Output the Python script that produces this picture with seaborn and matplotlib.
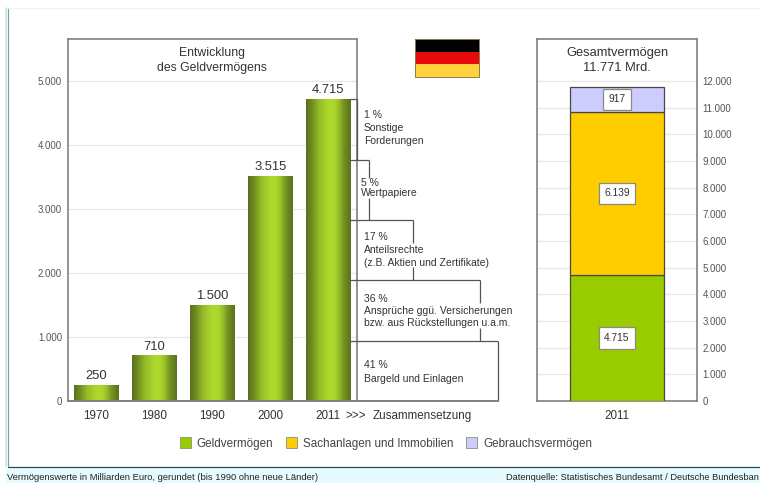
import matplotlib
matplotlib.use("Agg")
import matplotlib.pyplot as plt
from matplotlib.patches import Rectangle
from matplotlib.lines import Line2D
import numpy as np
import pandas as pd
import seaborn as sns

years = ["1970", "1980", "1990", "2000", "2011"]
financial_assets = [250, 710, 1500, 3515, 4715]
financial_labels = ["250", "710", "1.500", "3.515", "4.715"]

shares = ["41 %", "36 %", "17 %", "5 %", "1 %"]
share_texts = [
    "Bargeld und Einlagen",
    "Ansprüche ggü. Versicherungen\nbzw. aus Rückstellungen u.a.m.",
    "Anteilsrechte\n(z.B. Aktien und Zertifikate)",
    "Wertpapiere",
    "Sonstige\nForderungen",
]
share_bounds = [0, 943, 1886, 2829, 3772, 4715]

total_parts = ["Geldvermögen", "Sachanlagen und Immobilien", "Gebrauchsvermögen"]
total_values = [4715, 6139, 917]
total_labels = ["4.715", "6.139", "917"]
part_colors = ["#99cc00", "#ffcc00", "#ccccff"]

left_ticks = [0, 1000, 2000, 3000, 4000, 5000]
right_ticks = list(range(0, 13000, 1000))


def thousands(v):
    return f"{v:,}".replace(",", ".")


W, H = 760, 483
sns.set_theme(style="white")
plt.rcParams["font.family"] = ["Liberation Sans", "DejaVu Sans"]
fig = plt.figure(figsize=(W / 100, H / 100), dpi=100, facecolor="white")


def fig_box(x0, y0, x1, y1):
    return [x0 / W, 1 - y1 / H, (x1 - x0) / W, (y1 - y0) / H]


# page furniture: footer band, rules
fig.patches.append(Rectangle((6 / W, 0), 1, 1 - 466.5 / H, transform=fig.transFigure,
                             facecolor="#e6fbff", edgecolor="none", zorder=-5))
fig.add_artist(Line2D([8 / W, 1], [1 - 466.5 / H] * 2, color="#2b4a52", lw=0.9))
fig.add_artist(Line2D([6 / W] * 2, [1 - 466 / H, 1 - 7.5 / H], color="#bfe6ea", lw=1.2))
fig.add_artist(Line2D([8 / W] * 2, [1 - 466 / H, 1 - 7.5 / H], color="#8a9a9c", lw=0.9))
fig.add_artist(Line2D([8 / W, 1], [1 - 7.5 / H] * 2, color="#f0f0f0", lw=0.8))

GRAY = "#808080"
TEXT = "#333333"
PX = 320 / 5000  # pixels per euro unit on the left scale

# development panel
ax = fig.add_axes(fig_box(67.5, 39, 357, 401))
df = pd.DataFrame({"year": years, "value": financial_assets})
sns.barplot(data=df, x="year", y="value", ax=ax, color="#99cc00", width=0.77,
            saturation=1, zorder=3)
ax.set_xlim(-0.5, 4.5)
ax.set_ylim(0, 362 / PX)
ax.set_xlabel("")
ax.set_ylabel("")
ax.set_yticks(left_ticks, [thousands(v) for v in left_ticks])
ax.tick_params(axis="y", labelsize=7.0, labelcolor="#555555", length=0, pad=4)
ax.tick_params(axis="x", labelsize=8.4, labelcolor=TEXT, length=0, pad=6.5)
ax.grid(axis="y", color="#e6e6e6", lw=0.9, zorder=0)
ax.set_axisbelow(True)
for s in ax.spines.values():
    s.set_color(GRAY)
    s.set_linewidth(1.2)
ax.spines["bottom"].set_visible(False)
ax.set_facecolor("white")

# metallic shading across each column
ramp = np.array([0.0, 0.12, 0.3, 0.5, 0.62, 0.72, 0.85, 1.0])
tone = np.array([0.0, 0.25, 0.75, 1.0, 1.0, 0.8, 0.3, 0.0])
xs = np.linspace(0, 1, 64)
mix = np.interp(xs, ramp, tone)[None, :, None]
shade = np.array([0x5a, 0x72, 0x1e])[None, None, :] * (1 - mix) + \
    np.array([0xac, 0xd8, 0x2c])[None, None, :] * mix
shade = (shade / 255).astype(float)
for p, lab in zip(ax.patches, financial_labels):
    x0, w, h = p.get_x(), p.get_width(), p.get_height()
    ax.imshow(shade, extent=(x0, x0 + w, 0, h), aspect="auto", zorder=3.5,
              interpolation="bilinear")
    ax.text(x0 + w / 2, h + 45, lab, ha="center", va="bottom",
            fontsize=9.4, color=TEXT, zorder=5)
ax.set_xlim(-0.5, 4.5)
ax.set_ylim(0, 362 / PX)
ax.text(0.5, 0.977, "Entwicklung\ndes Geldvermögens", transform=ax.transAxes,
        ha="center", va="top", fontsize=8.8, color=TEXT, linespacing=1.35)


# composition brackets to the right of the last column
def px_x(x):
    return (x - 67.5) / (357 - 67.5) * 5 - 0.5


bar = ax.patches[4]
bar_right = bar.get_x() + bar.get_width()
box_right = [498.5, 480, 413, 369, 357]
gaps = [None, (303, 328), (243, 267), (178, 198), None]
text_y = [372, 310.5, 250, 188, 128]
text_x = [364, 364, 364, 361, 364]
line_gap = [1.55, 1.25, 1.32, 0.95, 1.32]
lkw = dict(color="#555555", lw=0.9, clip_on=False, zorder=4, solid_capstyle="butt")
for i, right in enumerate(box_right):
    lo, hi = share_bounds[i], share_bounds[i + 1]
    xr = px_x(right)
    ax.plot([bar_right, xr], [hi, hi], **lkw)
    if gaps[i] is None:
        ax.plot([xr, xr], [lo, hi], **lkw)
    else:
        g0, g1 = gaps[i]
        ax.plot([xr, xr], [hi, (401 - g0) / PX], **lkw)
        ax.plot([xr, xr], [(401 - g1) / PX, lo], **lkw)
    ax.text(px_x(text_x[i]), (401 - text_y[i]) / PX, shares[i] + "\n" + share_texts[i],
            ha="left", va="center", fontsize=7.45, color=TEXT, linespacing=line_gap[i],
            clip_on=False, zorder=5)
ax.plot([-0.5, px_x(498.5)], [0, 0], color=GRAY, lw=1.4, clip_on=False, zorder=4)
note_y = -14.5 / PX
ax.text(px_x(345), note_y, ">>>", ha="left", va="center", fontsize=8.4, color=TEXT, clip_on=False)
ax.text(px_x(373), note_y, "Zusammensetzung", ha="left", va="center", fontsize=8.4,
        color=TEXT, clip_on=False)

# total wealth panel
ax2 = fig.add_axes(fig_box(537, 39, 697, 401))
bottom = 0
for part, val, col, lab in zip(total_parts, total_values, part_colors, total_labels):
    sns.barplot(x=["2011"], y=[val], bottom=bottom, ax=ax2, color=col, width=94 / 160,
                saturation=1, edgecolor="#4a4a3a", linewidth=0.9, zorder=3)
    ax2.text(0, bottom + val / 2, lab, ha="center", va="center", fontsize=7.4,
             color=TEXT, zorder=5,
             bbox=dict(boxstyle="square,pad=0.55", fc="white", ec="#8a8a7a", lw=0.9))
    bottom += val
ax2.set_xlim(-0.5, 0.5)
ax2.set_ylim(0, 362 / (320 / 12000))
ax2.set_yticks(right_ticks, [thousands(v) for v in right_ticks])
ax2.yaxis.tick_right()
ax2.tick_params(axis="y", labelsize=7.0, labelcolor="#555555", length=0, pad=4)
ax2.tick_params(axis="x", labelsize=8.4, labelcolor=TEXT, length=0, pad=6.5)
ax2.set_xlabel("")
ax2.set_ylabel("")
ax2.grid(axis="y", color="#e6e6e6", lw=0.9, zorder=0)
ax2.set_axisbelow(True)
for s in ax2.spines.values():
    s.set_color(GRAY)
    s.set_linewidth(1.2)
ax2.text(0.5, 0.977, "Gesamtvermögen\n11.771 Mrd.", transform=ax2.transAxes,
         ha="center", va="top", fontsize=9.3, color=TEXT, linespacing=1.3)

# national flag
for i, c in enumerate(["#000000", "#e60a0a", "#ffd23c"]):
    y0 = 39 + i * 38 / 3
    fig.patches.append(Rectangle((415 / W, 1 - (y0 + 38 / 3) / H), 64 / W, (38 / 3) / H,
                                 transform=fig.transFigure, facecolor=c, edgecolor="none"))
fig.patches.append(Rectangle((415 / W, 1 - 77 / H), 64 / W, 38 / H, transform=fig.transFigure,
                             facecolor="none", edgecolor="#8a7a50", lw=0.7))

# legend
handles = [Rectangle((0, 0), 1, 1, facecolor=c, edgecolor="#9a9a7a", lw=0.7) for c in part_colors]
fig.legend(handles, total_parts, loc="center", bbox_to_anchor=(386 / W, 1 - 443.5 / H),
           ncol=3, frameon=False, fontsize=8.4, labelcolor="#444444",
           handlelength=0.95, handleheight=0.95, handletextpad=0.5, columnspacing=1.1)

# footer notes
fig.text(7 / W, 1 - 477 / H, "Vermögenswerte in Milliarden Euro, gerundet (bis 1990 ohne neue Länder)",
         fontsize=6.75, color="#222222", ha="left", va="center")
fig.text(506 / W, 1 - 477 / H, "Datenquelle: Statistisches Bundesamt / Deutsche Bundesban",
         fontsize=6.65, color="#222222", ha="left", va="center")

fig.savefig("out.png", dpi=100, facecolor=fig.get_facecolor())
